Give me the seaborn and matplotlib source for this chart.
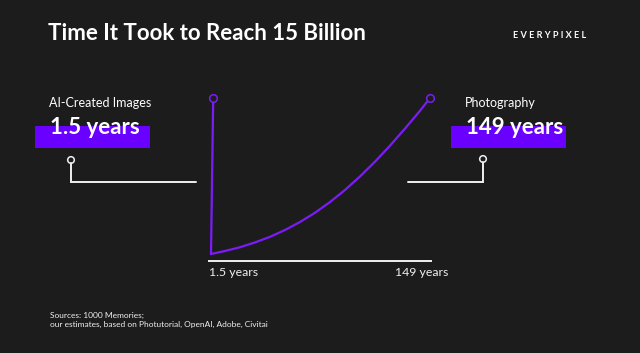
import pandas as pd
import matplotlib.pyplot as plt
import matplotlib.transforms as mtransforms
from matplotlib.patches import Rectangle, Circle
import seaborn as sns

# data: years to reach 15 billion images
ai_years = [0, 1.5]
ai_images = [0, 15]

photo_years = [0, 9.5, 19.7, 29.9, 40.1, 50.4, 60.6, 70.8, 81.0, 91.2, 101.4,
               111.6, 121.8, 132.0, 142.2, 149]
photo_images = [0, 0.29, 0.65, 1.11, 1.65, 2.31, 3.08, 3.97, 5.00, 6.16, 7.46,
                8.88, 10.42, 12.06, 13.77, 15]

tick_values = [1.5, 149]
tick_labels = ["1.5 years", "149 years"]

bg = "#1c1c1c"
purple_line = "#7b1cf7"
purple_box = "#6a00ff"
white = "#f0f0f0"

sns.set_theme(style="dark", rc={"figure.facecolor": bg, "axes.facecolor": bg,
                                "savefig.facecolor": bg})
plt.rcParams["font.family"] = ["Lato", "DejaVu Sans"]

df_ai = pd.DataFrame({"years": ai_years, "images": ai_images})
df_photo = pd.DataFrame({"years": photo_years, "images": photo_images})
ends = pd.DataFrame({"years": [ai_years[-1], photo_years[-1]],
                     "images": [ai_images[-1], photo_images[-1]]})

W, H = 640, 353
fig = plt.figure(figsize=(W / 100, H / 100), dpi=100)

# overlay in pixel coords for titles and callouts
over = fig.add_axes([0, 0, 1, 1])
over.set_xlim(0, W)
over.set_ylim(H, 0)
over.axis("off")

# main chart
ax = fig.add_axes([209 / W, 1 - 254 / H, 222 / W, 156 / H])
ax.patch.set_alpha(0)
sns.lineplot(data=df_ai, x="years", y="images", ax=ax, color=purple_line,
             linewidth=1.6, clip_on=False)
sns.lineplot(data=df_photo, x="years", y="images", ax=ax, color=purple_line,
             linewidth=1.6, clip_on=False)
sns.scatterplot(data=ends, x="years", y="images", ax=ax, s=30, color=bg,
                edgecolor=purple_line, linewidth=1.1, clip_on=False, zorder=5)
ax.set_xlim(-1.36, 149.68)
ax.set_ylim(0, 15)
ax.set_xlabel("")
ax.set_ylabel("")
ax.set_yticks([])
ax.set_xticks(tick_values, tick_labels)
ax.tick_params(axis="x", length=0, pad=4, labelsize=8.8, labelcolor=white)
for s in ["top", "left", "right"]:
    ax.spines[s].set_visible(False)
ax.spines["bottom"].set_position(("outward", 5))
ax.spines["bottom"].set_color(white)
ax.spines["bottom"].set_linewidth(1.4)
labs = ax.get_xticklabels()
labs[0].set_horizontalalignment("left")
labs[0].set_transform(labs[0].get_transform() +
                      mtransforms.ScaledTranslation(-4 / 100, 0, fig.dpi_scale_trans))
labs[1].set_transform(labs[1].get_transform() +
                      mtransforms.ScaledTranslation(-8.5 / 100, 0, fig.dpi_scale_trans))

# title + logo
over.text(48, 40, "Time It Took to Reach 15 Billion", color="white", fontsize=16,
          fontweight="bold", va="baseline")
over.text(513, 38, "E V E R Y P I X E L", color="white", fontsize=6.6,
          fontweight="bold", va="baseline")

# callout boxes
for x0, label, value in [(35, "AI-Created Images", "1.5 years"),
                         (451, "Photography", "149 years")]:
    over.add_patch(Rectangle((x0, 126), 115, 22, color=purple_box, lw=0))
    over.text(x0 + 14, 107, label, color="white", fontsize=9, va="baseline")
    over.text(x0 + 15, 134, value, color="white", fontsize=16, fontweight="bold",
              va="baseline")

# connectors
over.plot([71, 71, 196], [163, 181.5, 181.5], color=white, lw=1.4,
          solid_joinstyle="miter")
over.add_patch(Circle((71, 160), 3.3, facecolor=bg, edgecolor=white, lw=1.1))
over.plot([483, 483, 408], [162, 181.5, 181.5], color=white, lw=1.4,
          solid_joinstyle="miter")
over.add_patch(Circle((483, 159), 3.3, facecolor=bg, edgecolor=white, lw=1.1))

# sources
over.text(50, 317.5, "Sources: 1000 Memories;", color=white, fontsize=6,
          va="baseline")
over.text(50, 327, "our estimates, based on Photutorial, OpenAI, Adobe, Civitai",
          color=white, fontsize=6, va="baseline")

fig.savefig("out.png", dpi=100, facecolor=bg)
